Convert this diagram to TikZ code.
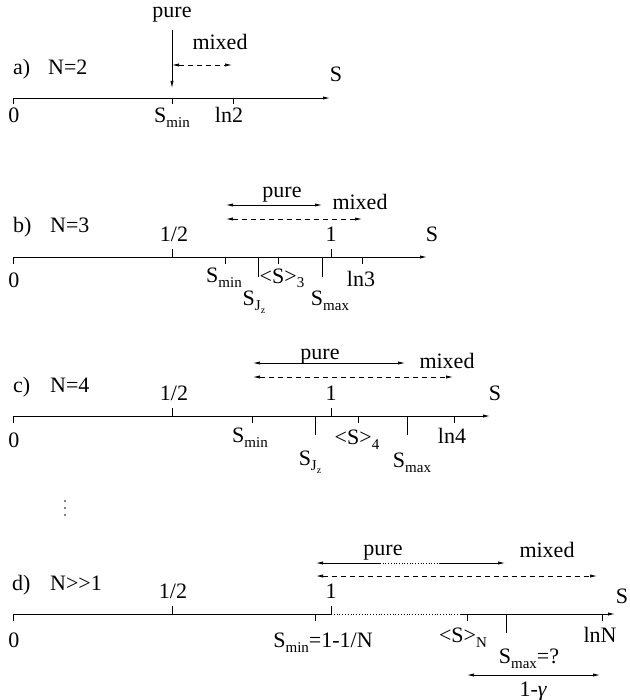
\documentclass[tikz,border=0pt]{standalone}
\usepackage{fontspec}
\setmainfont{Liberation Serif}
\usetikzlibrary{arrows.meta}
\newcommand{\lowsub}[1]{\raisebox{-5pt}{\fontsize{15}{16}\selectfont #1}}
\newcommand{\jz}{\lowsub{J\raisebox{-3pt}{\fontsize{10}{11}\selectfont z}}}
\tikzset{axisline/.style={line width=0.8pt,-{Latex[length=7pt,width=3.2pt]}},
  tickmark/.style={line width=0.8pt},
  lbl/.style={inner sep=0pt,anchor=base,font=\fontsize{22}{24}\selectfont},
  spanarrow/.style={line width=0.7pt,{Latex[length=7pt,width=3.2pt]}-{Latex[length=7pt,width=3.2pt]}},
  dashspan/.style={spanarrow,dash pattern=on 5pt off 4pt}}

\begin{document}
\begin{tikzpicture}[x=1pt,y=-1pt]
    \useasboundingbox (0,0) rectangle (629,700);
    % a) N=2
    \coordinate (a0) at (13,98);
    \coordinate (aend) at (330,98);
    \draw[axisline] (a0) -- (aend);
    \foreach \x in {13,172,233} \draw[tickmark] (\x,98) -- ++(0,6);
    \node[lbl,anchor=base west] (alab) at (13,75) {a)};
    \node[lbl,anchor=base west] (aN) at (48,75) {N=2};
    \node[lbl] (aS) at (336,82) {S};
    \node[lbl] (azero) at (14,123) {0};
    \node[lbl] (amin) at (172,123) {S\lowsub{min}};
    \node[lbl] (aln) at (229,123) {ln2};
    \node[lbl] (apure) at (172,18) {pure};
    \node[lbl] (amixed) at (220,50) {mixed};
    \coordinate (apuretop) at (172,30);
    \coordinate (apurebot) at (172,88);
    \coordinate (amixl) at (172,65);
    \coordinate (amixr) at (232,65);
    \draw[line width=0.7pt,-{Latex[length=7pt,width=3.2pt]}] (apuretop) -- (apurebot);
    \draw[dashspan] (amixl) -- (amixr);

    % b) N=3
    \coordinate (b0) at (13,257);
    \coordinate (bend) at (427,257);
    \draw[axisline] (b0) -- (bend);
    \foreach \x/\l in {172/-8,331/-8,13/7,225/7,278/7,362/7,258/20,322/20}
        \draw[tickmark] (\x,257) -- ++(0,\l);
    \node[lbl,anchor=base west] (blab) at (13,233) {b)};
    \node[lbl,anchor=base west] (bN) at (50,233) {N=3};
    \node[lbl] (bhalf) at (174,242) {1/2};
    \node[lbl] (bone) at (331,242) {1};
    \node[lbl] (bS) at (432,242) {S};
    \node[lbl] (bzero) at (14,287) {0};
    \node[lbl] (bmin) at (224,282) {S\lowsub{min}};
    \node[lbl] (bavg) at (282,283) {<S>\lowsub{3}};
    \node[lbl] (bln) at (361,286) {ln3};
    \node[lbl] (bjz) at (254,305) {S\jz};
    \node[lbl] (bmax) at (330,305) {S\lowsub{max}};
    \node[lbl] (bpure) at (282,198) {pure};
    \node[lbl] (bmixed) at (360,210) {mixed};
    \coordinate (bpl) at (226,205);
    \coordinate (bpr) at (322,205);
    \coordinate (bml) at (226,219);
    \coordinate (bmr) at (362,219);
    \draw[spanarrow] (bpl) -- (bpr);
    \draw[dashspan] (bml) -- (bmr);

    % c) N=4
    \coordinate (c0) at (13,416);
    \coordinate (cend) at (490,416);
    \draw[axisline] (c0) -- (cend);
    \foreach \x/\l in {172/-8,331/-8,13/7,252/7,358/7,454/7,315/19,407/19}
        \draw[tickmark] (\x,416) -- ++(0,\l);
    \node[lbl,anchor=base west] (clab) at (13,392) {c)};
    \node[lbl,anchor=base west] (cN) at (50,392) {N=4};
    \node[lbl] (chalf) at (174,400) {1/2};
    \node[lbl] (cone) at (331,400) {1};
    \node[lbl] (cS) at (495,400) {S};
    \node[lbl] (czero) at (14,447) {0};
    \node[lbl] (cmin) at (250,442) {S\lowsub{min}};
    \node[lbl] (cavg) at (357,444) {<S>\lowsub{4}};
    \node[lbl] (cln) at (452,443) {ln4};
    \node[lbl] (cjz) at (310,465) {S\jz};
    \node[lbl] (cmax) at (412,467) {S\lowsub{max}};
    \node[lbl] (cpure) at (320,359) {pure};
    \node[lbl] (cmixed) at (447,368) {mixed};
    \coordinate (cpl) at (253,363);
    \coordinate (cpr) at (405,363);
    \coordinate (cml) at (253,377);
    \coordinate (cmr) at (453,377);
    \draw[spanarrow] (cpl) -- (cpr);
    \draw[dashspan] (cml) -- (cmr);

    % vertical dots
    \foreach \y in {501,508,515} \fill (65,\y) circle (0.9pt);

    % d) N>>1
    \coordinate (d0) at (13,614);
    \coordinate (done) at (331,614);
    \coordinate (dgap) at (460,614);
    \coordinate (dend) at (615,614);
    \draw[tickmark] (d0) -- (done);
    \draw[tickmark,dotted] (done) -- (dgap);
    \draw[axisline] (dgap) -- (dend);
    \foreach \x/\l in {172/-8,331/-8,13/7,315/7,467/7,602/7,506/19}
        \draw[tickmark] (\x,614) -- ++(0,\l);
    \node[lbl,anchor=base west] (dlab) at (12,590) {d)};
    \node[lbl,anchor=base west] (dN) at (50,590) {N>{}>1};
    \node[lbl] (dhalf) at (173,598) {1/2};
    \node[lbl] (donelab) at (331,598) {1};
    \node[lbl] (dS) at (622,603) {S};
    \node[lbl] (dzero) at (14,647) {0};
    \node[lbl] (dmin) at (323,647) {S\lowsub{min}=1-1/N};
    \node[lbl] (davg) at (463,642) {<S>\lowsub{N}};
    \node[lbl] (dln) at (600,642) {lnN};
    \node[lbl] (dmax) at (529,663) {S\lowsub{max}=?};
    \node[lbl] (dpure) at (383,555) {pure};
    \node[lbl] (dmixed) at (547,557) {mixed};
    \node[lbl] (dgamma) at (533,696) {1-{\itshape γ}};
    \coordinate (dpl) at (316,563);
    \coordinate (dpa) at (380,563);
    \coordinate (dpb) at (440,563);
    \coordinate (dpr) at (505,563);
    \coordinate (dml) at (316,576);
    \coordinate (dmr) at (597,576);
    \coordinate (dgl) at (467,675);
    \coordinate (dgr) at (600,675);
    \draw[line width=0.7pt,{Latex[length=7pt,width=3.2pt]}-] (dpl) -- (dpa);
    \draw[line width=0.7pt,dotted] (dpa) -- (dpb);
    \draw[line width=0.7pt,-{Latex[length=7pt,width=3.2pt]}] (dpb) -- (dpr);
    \draw[dashspan] (dml) -- (dmr);
    \draw[spanarrow] (dgl) -- (dgr);
\end{tikzpicture}
\end{document}
